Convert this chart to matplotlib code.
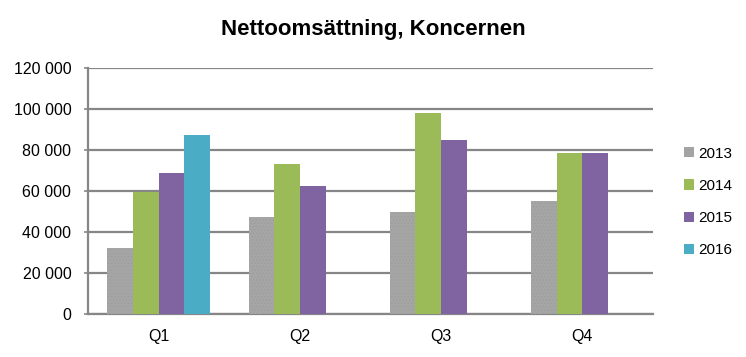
import matplotlib
matplotlib.use("Agg")
import matplotlib.pyplot as plt
import numpy as np

plt.rcParams['font.family'] = ['Liberation Sans', 'DejaVu Sans']
plt.rcParams['hatch.linewidth'] = 0.3

quarters = ["Q1", "Q2", "Q3", "Q4"]
years = ["2013", "2014", "2015", "2016"]
v2013 = [32000, 47200, 49600, 55000]
v2014 = [59700, 73000, 97900, 78300]
v2015 = [68600, 62300, 85100, 78300]
v2016 = [87100, None, None, None]
colors = ['#A5A5A5', '#9BBB59', '#8064A2', '#4BACC6']

fig = plt.figure(figsize=(7.46, 3.57), dpi=100)
ax = fig.add_axes([88/746, 1 - 314/357, (653 - 88)/746, (314 - 68)/357])

x = np.arange(len(quarters))
w = 1 / 5.5
for i, (vals, c) in enumerate(zip([v2013, v2014, v2015, v2016], colors)):
    xs = [xx - 2 * w + (i + 0.5) * w for xx, v in zip(x, vals) if v is not None]
    ys = [v for v in vals if v is not None]
    if i == 0:
        ax.bar(xs, ys, w, color=c, edgecolor='#999999', linewidth=0, hatch='.....',
               label=years[i], zorder=3)
    else:
        ax.bar(xs, ys, w, color=c, linewidth=0, label=years[i], zorder=3)

ax.set_xlim(-0.5, 3.5)
ax.set_ylim(0, 120000)
ax.set_yticks(range(0, 120001, 20000))
ax.set_yticklabels([f"{t:,}".replace(",", " ") for t in range(0, 120001, 20000)], fontsize=11.5)
ax.set_xticks(x)
ax.set_xticklabels(quarters, fontsize=11.5)
ax.yaxis.grid(True, color='#868686', linewidth=1.6, zorder=0)
ax.tick_params(axis='x', length=0, pad=11)
ax.tick_params(axis='y', length=3, color='#868686', width=1.2, pad=9)
for s in ['top', 'right']:
    ax.spines[s].set_visible(False)
ax.spines['left'].set_color('#868686')
ax.spines['left'].set_linewidth(1.6)
ax.spines['bottom'].set_color('#868686')
ax.spines['bottom'].set_linewidth(1.6)

fig.text(373/746, 1 - 30/357, "Nettoomsättning, Koncernen", ha='center', va='center',
         fontsize=16, fontweight='bold')

fig.legend(loc='center left', bbox_to_anchor=(670/746, 1 - 202/357), frameon=False,
           fontsize=11, handlelength=0.65, handleheight=0.65, handletextpad=0.3,
           labelspacing=1.2)

fig.savefig("out.png", dpi=100)
